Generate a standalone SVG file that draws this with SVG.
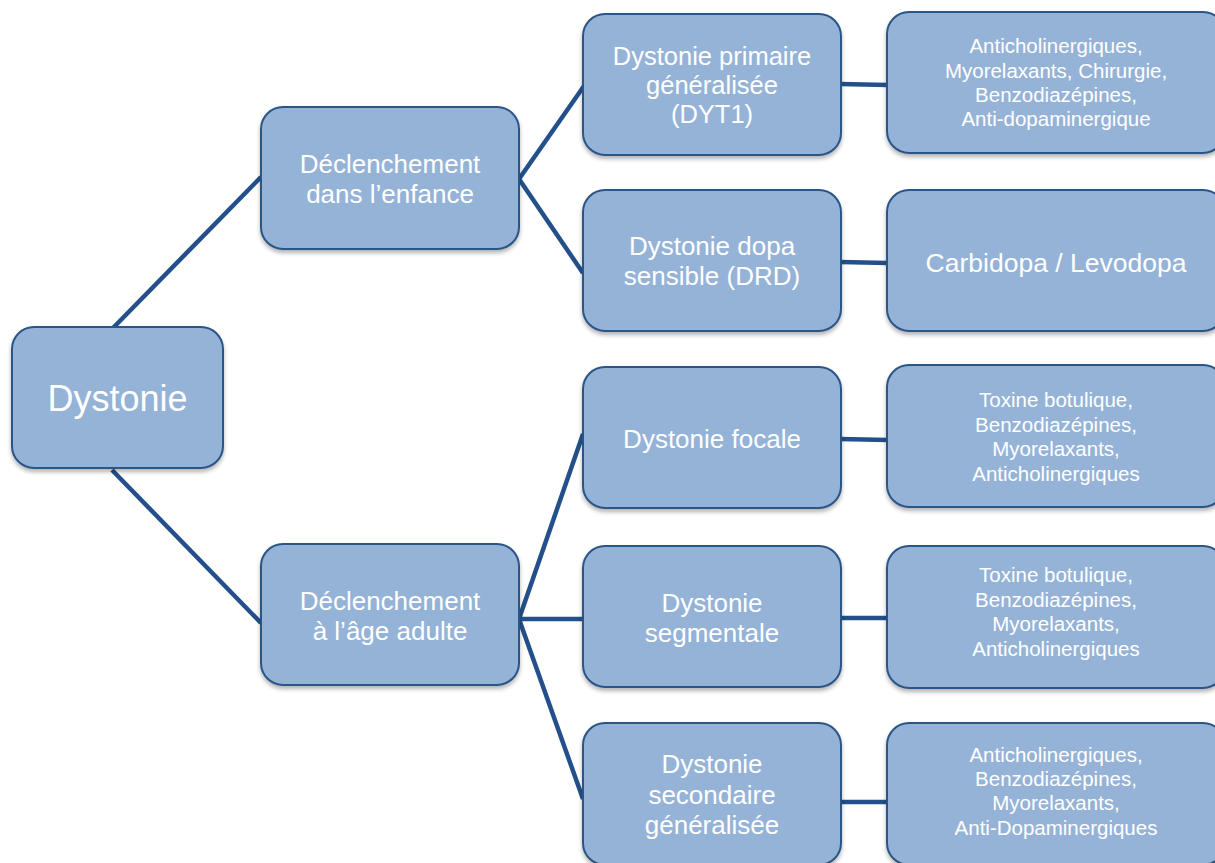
<svg xmlns="http://www.w3.org/2000/svg" width="1215" height="863" viewBox="0 0 1215 863">
<defs>
<filter id="sh" x="-10%" y="-10%" width="120%" height="130%">
<feGaussianBlur in="SourceAlpha" stdDeviation="2"/>
<feOffset dx="0" dy="3" result="b"/>
<feComponentTransfer><feFuncA type="linear" slope="0.3"/></feComponentTransfer>
<feMerge><feMergeNode/><feMergeNode in="SourceGraphic"/></feMerge>
</filter>
<style>
.box{fill:#95B3D7;stroke:#2C5487;stroke-width:2;filter:url(#sh)}
.t{fill:#FFFFFF;font-family:"Liberation Sans",Arial,sans-serif;text-anchor:middle}
.l{font-size:36px}
.m{font-size:25.5px}
.m2{font-size:26px}
.m3{font-size:26.5px}
.s{font-size:20.5px}
.c{stroke:#23508A;stroke-width:4.5;fill:none;stroke-linecap:butt}
</style>
</defs>
<rect width="1215" height="863" fill="#FFFFFF"/>
<g id="connectors">
<line class="c" x1="113" y1="328" x2="261" y2="177"/>
<line class="c" x1="112" y1="470" x2="261" y2="623"/>
<line class="c" x1="519" y1="179" x2="584" y2="86"/>
<line class="c" x1="519" y1="179" x2="583" y2="273"/>
<line class="c" x1="519" y1="619" x2="583" y2="434"/>
<line class="c" x1="519" y1="619" x2="584" y2="619"/>
<line class="c" x1="519" y1="619" x2="583" y2="799"/>
<line class="c" x1="840" y1="84" x2="888" y2="85"/>
<line class="c" x1="840" y1="262" x2="888" y2="263"/>
<line class="c" x1="840" y1="439" x2="888" y2="440"/>
<line class="c" x1="841" y1="618" x2="888" y2="618"/>
<line class="c" x1="841" y1="802" x2="888" y2="802"/>
</g>
<g id="n-dystonie">
<rect class="box" x="12" y="327" width="211" height="141" rx="22"/>
<text class="t l" x="117.5" y="411">Dystonie</text>
</g>
<g id="n-enfance">
<rect class="box" x="261" y="107" width="258" height="142" rx="22"/>
<text class="t m2" x="390" y="173">Déclenchement</text>
<text class="t m2" x="390" y="203">dans l’enfance</text>
</g>
<g id="n-adulte">
<rect class="box" x="261" y="544" width="258" height="141" rx="22"/>
<text class="t m2" x="390" y="610">Déclenchement</text>
<text class="t m2" x="390" y="640">à l’âge adulte</text>
</g>
<g id="n-primaire">
<rect class="box" x="583" y="14" width="258" height="141" rx="22"/>
<text class="t m" x="712" y="65">Dystonie primaire</text>
<text class="t m" x="712" y="94">généralisée</text>
<text class="t m" x="712" y="123">(DYT1)</text>
</g>
<g id="n-dopa">
<rect class="box" x="583" y="190" width="258" height="141" rx="22"/>
<text class="t m2" x="712" y="255">Dystonie dopa</text>
<text class="t m2" x="712" y="285">sensible (DRD)</text>
</g>
<g id="n-focale">
<rect class="box" x="583" y="367" width="258" height="141" rx="22"/>
<text class="t m2" x="712" y="448">Dystonie focale</text>
</g>
<g id="n-segmentale">
<rect class="box" x="583" y="546" width="258" height="141" rx="22"/>
<text class="t m2" x="712" y="612">Dystonie</text>
<text class="t m2" x="712" y="642">segmentale</text>
</g>
<g id="n-secondaire">
<rect class="box" x="583" y="723" width="258" height="142" rx="22"/>
<text class="t m2" x="712" y="773">Dystonie</text>
<text class="t m2" x="712" y="804">secondaire</text>
<text class="t m2" x="712" y="834">généralisée</text>
</g>
<g id="n-t1">
<rect class="box" x="887" y="12" width="338" height="141" rx="22"/>
<text class="t s" x="1056" y="53">Anticholinergiques,</text>
<text class="t s" x="1056" y="78">Myorelaxants, Chirurgie,</text>
<text class="t s" x="1056" y="102">Benzodiazépines,</text>
<text class="t s" x="1056" y="126">Anti-dopaminergique</text>
</g>
<g id="n-t2">
<rect class="box" x="887" y="190" width="338" height="141" rx="22"/>
<text class="t m3" x="1056" y="272">Carbidopa / Levodopa</text>
</g>
<g id="n-t3">
<rect class="box" x="887" y="365" width="338" height="142" rx="22"/>
<text class="t s" x="1056" y="407">Toxine botulique,</text>
<text class="t s" x="1056" y="432">Benzodiazépines,</text>
<text class="t s" x="1056" y="456">Myorelaxants,</text>
<text class="t s" x="1056" y="481">Anticholinergiques</text>
</g>
<g id="n-t4">
<rect class="box" x="887" y="546" width="338" height="142" rx="22"/>
<text class="t s" x="1056" y="582">Toxine botulique,</text>
<text class="t s" x="1056" y="607">Benzodiazépines,</text>
<text class="t s" x="1056" y="631">Myorelaxants,</text>
<text class="t s" x="1056" y="656">Anticholinergiques</text>
</g>
<g id="n-t5">
<rect class="box" x="887" y="723" width="338" height="142" rx="22"/>
<text class="t s" x="1056" y="762">Anticholinergiques,</text>
<text class="t s" x="1056" y="786">Benzodiazépines,</text>
<text class="t s" x="1056" y="810">Myorelaxants,</text>
<text class="t s" x="1056" y="835">Anti-Dopaminergiques</text>
</g>
</svg>
